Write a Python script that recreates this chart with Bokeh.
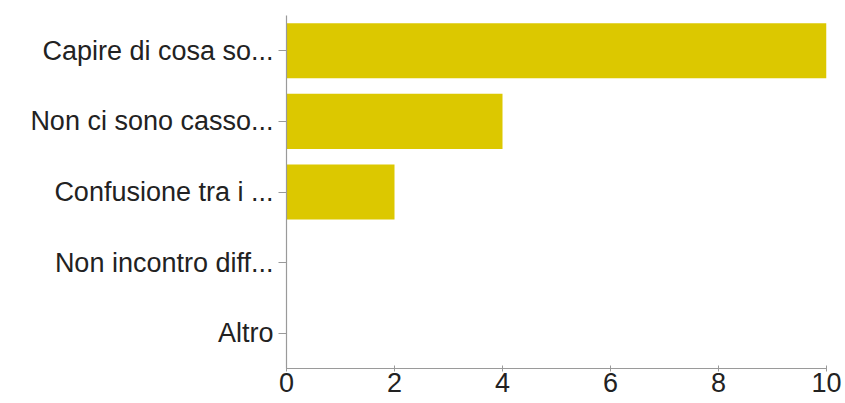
from bokeh.plotting import figure
from bokeh.models import Range1d, FactorRange
from bokeh.embed import file_html
from bokeh.resources import INLINE

categories = ["Capire di cosa so...", "Non ci sono casso...", "Confusione tra i ...",
              "Non incontro diff...", "Altro"]
counts = [10, 4, 2, 0, 0]
x_ticks = [0, 2, 4, 6, 8, 10]

p = figure(width=845, height=403, output_backend="svg", toolbar_location=None,
           y_range=FactorRange(*list(reversed(categories)), range_padding=0),
           x_range=Range1d(0, 10),
           min_border_left=286, min_border_right=19, min_border_top=15, min_border_bottom=35)

p.hbar(y=categories, right=counts, left=0, height=0.78, color="#dcc800", line_color=None)

p.xgrid.visible = False
p.ygrid.visible = False
p.outline_line_color = None
p.background_fill_color = "white"
p.border_fill_color = "white"

p.xaxis.ticker = x_ticks
for ax in (p.xaxis[0], p.yaxis[0]):
    ax.axis_line_color = "#9a9a9a"
    ax.axis_line_width = 1.2
    ax.major_tick_line_color = "#9a9a9a"
    ax.minor_tick_line_color = None
    ax.major_label_text_font = "Liberation Sans"
    ax.major_label_text_font_size = "27px"
    ax.major_label_text_color = "#222222"

p.xaxis.major_tick_in = 3
p.xaxis.major_tick_out = 3
p.xaxis.major_label_standoff = 1
p.yaxis.major_tick_in = 0
p.yaxis.major_tick_out = 8
p.yaxis.major_label_standoff = 5

open("out.html", "w").write(file_html(p, INLINE))
